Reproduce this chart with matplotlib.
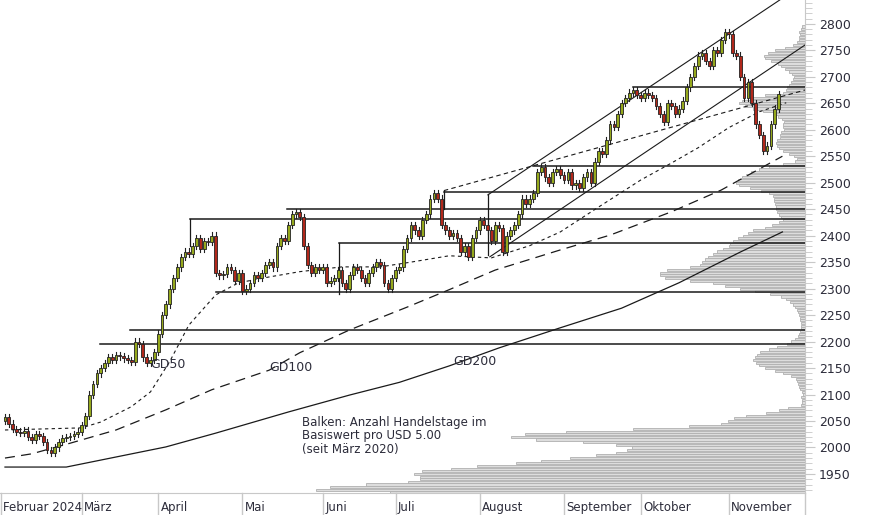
import numpy as np
import matplotlib
matplotlib.use("Agg")
import matplotlib.pyplot as plt

# daily closes, Feb .. Nov 2024
CLOSES = (
    [2058, 2045, 2035, 2030, 2028, 2032, 2020, 2015, 2025, 2022, 2010, 1995, 1990, 2000, 2010, 2018, 2020, 2022, 2025, 2030, 2042]
    + [2060, 2100, 2120, 2140, 2150, 2160, 2170, 2165, 2175, 2172, 2168, 2165, 2162, 2200, 2195, 2170, 2160, 2165, 2180, 2215]
    + [2250, 2270, 2300, 2320, 2340, 2360, 2370, 2365, 2380, 2395, 2375, 2390, 2388, 2400, 2330, 2325, 2328, 2340, 2335, 2315, 2330, 2295]
    + [2300, 2310, 2325, 2320, 2330, 2345, 2350, 2340, 2380, 2395, 2390, 2420, 2440, 2445, 2435, 2380, 2345, 2330, 2340, 2335, 2340]
    + [2310, 2315, 2320, 2335, 2310, 2300, 2325, 2340, 2335, 2320, 2310, 2330, 2340, 2350, 2345, 2310, 2300, 2320, 2335]
    + [2340, 2375, 2395, 2420, 2410, 2400, 2430, 2440, 2470, 2480, 2470, 2420, 2410, 2400, 2405, 2395, 2370, 2380, 2360, 2395, 2410, 2430]
    + [2420, 2410, 2390, 2420, 2415, 2370, 2400, 2410, 2420, 2440, 2470, 2460, 2470, 2480, 2520, 2530, 2510, 2500, 2520, 2525, 2515, 2505]
    + [2520, 2495, 2500, 2490, 2510, 2520, 2500, 2540, 2560, 2555, 2580, 2610, 2605, 2630, 2650, 2660, 2670, 2675, 2665, 2660]
    + [2670, 2665, 2660, 2645, 2630, 2615, 2650, 2645, 2630, 2640, 2655, 2680, 2700, 2720, 2740, 2745, 2730, 2720, 2750, 2745, 2770, 2785, 2780]
    + [2745, 2740, 2700, 2660, 2690, 2650, 2610, 2590, 2560, 2570, 2610, 2640, 2668]
)
FIRST_OPEN = 2050
WICK = 6

MONTHS = ["Februar 2024", "März", "April", "Mai", "Juni", "Juli", "August", "September", "Oktober", "November"]
MONTH_START = [0, 21, 41, 63, 84, 103, 125, 147, 167, 190]

# moving averages (day index, value)
GD50_DAYS = [0, 20, 25, 33, 38, 43, 48, 55, 61, 69, 77, 88, 98, 106, 116, 127, 137, 145, 155, 166, 174, 181, 189, 197, 204]
GD50_VALS = [2033, 2037, 2048, 2077, 2105, 2162, 2231, 2288, 2311, 2322, 2332, 2341, 2341, 2350, 2362, 2358, 2381, 2407, 2454, 2505, 2537, 2566, 2604, 2634, 2651]
GD100_DAYS = [0, 7, 17, 29, 42, 54, 69, 77, 90, 105, 116, 128, 145, 158, 174, 187, 203]
GD100_VALS = [1980, 1988, 2008, 2033, 2071, 2109, 2146, 2179, 2222, 2265, 2298, 2335, 2373, 2401, 2445, 2486, 2550]
GD200_DAYS = [0, 16, 29, 42, 55, 74, 90, 103, 116, 129, 145, 161, 176, 192, 203]
GD200_VALS = [1963, 1963, 1982, 2001, 2027, 2067, 2099, 2123, 2154, 2188, 2226, 2263, 2311, 2369, 2407]

# support / resistance levels (price, start day)
LEVEL_PRICES = [2195, 2222, 2432, 2293, 2450, 2387, 2483, 2532, 2681]
LEVEL_START = [24.8, 32.6, 48.3, 55.0, 73.6, 87.2, 114.6, 137.9, 164.0]
STUB_DAYS = [87.2, 126.1, 114.6, 48.3]
STUB_LOW = [2290, 2364, 2450, 2380]
STUB_HIGH = [2387, 2478, 2485, 2432]

# trend lines (day0, price0, day1, price1)
CHANNEL_LOW = [126.6, 2360, 208.9, 2760]
CHANNEL_HIGH = [126.1, 2477, 202.3, 2845]
TREND_DASH = [114.6, 2485, 208.9, 2675]

# price profile: days per USD 5 bin (from 1915)
PROFILE_START = 1915
PROFILE = [
    415, 489, 475, 439, 397, 385, 385, 391, 383, 354, 328, 289, 264, 235, 209, 189, 178, 173, 189, 222,
    269, 294, 280, 239, 172, 116, 84, 77, 71, 59, 39, 26, 17, 4, 3, 3, 4,
    2, 3, 5, 6, 7, 8, 9, 14, 22, 30, 40, 46, 49, 52, 50, 48, 45, 36, 28, 18,
    14, 10, 7, 6, 5, 4, 4, 4, 5, 5, 6, 7, 8, 10, 12, 15, 19, 24, 35, 50,
    65, 80, 92, 115, 140, 145, 145, 138, 115, 105, 103, 100, 97, 92, 88, 82, 76, 75, 72, 67,
    62, 57, 52, 40, 33, 26, 22, 24, 26, 28, 29, 29, 30, 31, 31, 32, 36, 44, 55, 66,
    69, 67, 63, 59, 54, 46, 36, 22, 10, 8, 11, 16, 22, 26, 28, 29, 28, 25, 25, 24,
    21, 22, 22, 21, 23, 27, 31, 42, 52, 60, 66, 63, 55, 40, 22, 19, 18, 16, 14, 12,
    11, 13, 16, 20, 24, 27, 34, 40, 41, 37, 30, 20, 12, 8, 6, 6, 5, 6, 4, 3,
]

PX_PER_DAY = 3.83
X0, X1 = -1.3, 208.9
Y0, Y1 = 1914, 2845
UP = "#95a81c"
DOWN = "#b1281b"
LINE = "#1a1a1a"
AXC = "#c8c8c8"
TXT = "#2c2c3a"

fig = plt.figure(figsize=(8.74, 5.15), dpi=100)
ax = fig.add_axes([0, 22 / 515, 805 / 874, 493 / 515])
ax.set_xlim(X0, X1)
ax.set_ylim(Y0, Y1)

# profile bars
prices = PROFILE_START + 5 * np.arange(len(PROFILE))
lens = np.array(PROFILE) / PX_PER_DAY
ax.barh(prices, lens, left=X1 - lens, height=4.0, color="#dddddd",
        edgecolor="#b0b0b0", linewidth=0.6, zorder=1)

# moving averages
ax.plot(GD200_DAYS, GD200_VALS, color=LINE, lw=0.9, zorder=3)
ax.plot(GD100_DAYS, GD100_VALS, color=LINE, lw=0.9, dashes=(8, 5), zorder=3)
ax.plot(GD50_DAYS, GD50_VALS, color=LINE, lw=0.8, dashes=(3, 3), zorder=3)

# levels
for p, s in zip(LEVEL_PRICES, LEVEL_START):
    ax.plot([s, X1], [p, p], color=LINE, lw=1.1, zorder=3)
for d, lo, hi in zip(STUB_DAYS, STUB_LOW, STUB_HIGH):
    ax.plot([d, d], [lo, hi], color=LINE, lw=0.9, zorder=3)

# trend lines
for seg, kw in [(CHANNEL_LOW, {}), (CHANNEL_HIGH, {}), (TREND_DASH, {"dashes": (4, 3)})]:
    ax.plot([seg[0], seg[2]], [seg[1], seg[3]], color=LINE, lw=0.8, zorder=3, **kw)

# candles
opens = [FIRST_OPEN] + CLOSES[:-1]
for i, (o, c) in enumerate(zip(opens, CLOSES)):
    hi, lo = max(o, c) + WICK, min(o, c) - WICK
    ax.plot([i, i], [lo, hi], color="#222222", lw=0.8, zorder=4)
    body = max(abs(c - o), 2)
    ax.add_patch(plt.Rectangle((i - 0.36, min(o, c)), 0.72, body,
                               facecolor=UP if c >= o else DOWN,
                               edgecolor="#222222", lw=0.6, zorder=5))

ax.text(38, 2150, "GD50", fontsize=9, color=TXT, zorder=6)
ax.text(69, 2145, "GD100", fontsize=9, color=TXT, zorder=6)
ax.text(117, 2155, "GD200", fontsize=9, color=TXT, zorder=6)
ax.text(77.5, 1990, "Balken: Anzahl Handelstage im\nBasiswert pro USD 5.00\n(seit März 2020)",
        fontsize=8.5, color=TXT, linespacing=1.05, zorder=6)

# axes
for s in ["top", "left"]:
    ax.spines[s].set_visible(False)
ax.spines["bottom"].set_color(AXC)
ax.spines["right"].set_color(AXC)
ax.yaxis.tick_right()
ax.set_yticks(np.arange(1950, 2801, 50))
ax.set_yticks(np.arange(1920, 2841, 10), minor=True)
ax.tick_params(axis="y", which="major", length=7, color=AXC, labelsize=9, labelcolor=TXT, pad=3)
ax.tick_params(axis="y", which="minor", length=5, color=AXC)
ax.set_xticks([])
for m, i in zip(MONTHS, MONTH_START):
    ax.plot([i - 1, i - 1], [Y0, Y0 - 50], color=AXC, lw=1, clip_on=False)
    ax.text(i - 0.4, Y0 - 27, m, fontsize=8.5, color=TXT, va="center", ha="left", clip_on=False)
ax.plot([X1, X1], [Y0, Y0 - 50], color=AXC, lw=1, clip_on=False)

fig.savefig("out.png", dpi=100)
